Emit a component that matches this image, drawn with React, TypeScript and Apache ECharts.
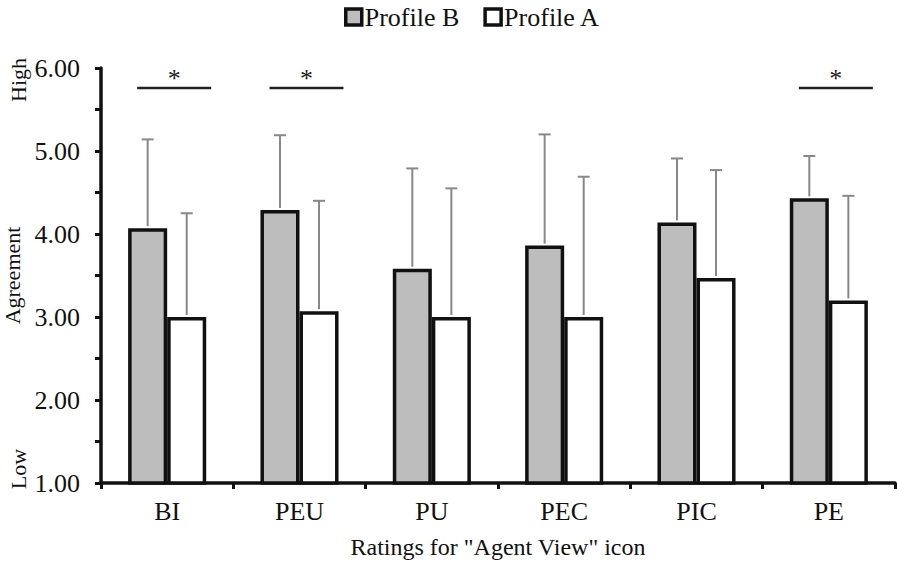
import React, { useEffect, useRef } from "react";
import * as echarts from "echarts";

const categories = ["BI", "PEU", "PU", "PEC", "PIC", "PE"];
const profileB = [4.07, 4.29, 3.58, 3.86, 4.14, 4.43];
const profileBErr = [1.07, 0.9, 1.21, 1.34, 0.77, 0.51];
const profileA = [3.0, 3.07, 3.0, 3.0, 3.47, 3.2];
const profileAErr = [1.25, 1.33, 1.55, 1.69, 1.3, 1.26];
const significant = ["BI", "PEU", "PE"];
const sigLevel = 5.76;
const yTicks = [1, 2, 3, 4, 5, 6];

const FONT = "'Liberation Serif', 'Times New Roman', serif";
const BAR_FRAC = 0.295;

export default function App() {
  const ref = useRef<HTMLDivElement>(null);
  useEffect(() => {
    document.body.style.margin = "0";
    const chart = echarts.init(ref.current!, null, { renderer: "svg" });

    const errData: any[] = [];
    categories.forEach((c, i) => {
      errData.push([i, profileB[i] + profileBErr[i], profileB[i], -1]);
      errData.push([i, profileA[i] + profileAErr[i], profileA[i], 1]);
    });
    const sigData = significant.map((c) => [categories.indexOf(c), sigLevel]);

    chart.setOption({
      animation: false,
      legend: {
        data: ["Profile B", "Profile A"],
        left: 344,
        top: 4,
        padding: 0,
        itemWidth: 16,
        itemHeight: 16,
        itemGap: 24,
        icon: "rect",
        itemStyle: { borderWidth: 3.5, borderColor: "#111" },
        textStyle: { fontFamily: FONT, fontSize: 26, color: "#111", padding: [0, 0, 0, -2] },
      },
      grid: { left: 101, right: 2, top: 68, bottom: 81, containLabel: false, outerBoundsMode: "none" },
      xAxis: {
        type: "category",
        data: categories,
        name: 'Ratings for "Agent View" icon',
        nameLocation: "middle",
        nameGap: 52,
        nameTextStyle: { fontFamily: FONT, fontSize: 24, color: "#111" },
        axisLine: { lineStyle: { color: "#111", width: 3.5 } },
        axisTick: { show: true, length: 6, lineStyle: { color: "#111", width: 3 } },
        axisLabel: { fontFamily: FONT, fontSize: 26, color: "#111", margin: 15 },
      },
      yAxis: {
        type: "value",
        min: 1,
        max: 6,
        interval: 1,
        name: "Agreement",
        nameLocation: "middle",
        nameRotate: 90,
        nameGap: 74,
        nameTextStyle: { fontFamily: FONT, fontSize: 22, color: "#111" },
        axisLine: { show: true, lineStyle: { color: "#111", width: 3.5 } },
        axisTick: { show: true, length: 6, lineStyle: { color: "#111", width: 3 } },
        minorTick: { show: true, splitNumber: 2, length: 6, lineStyle: { color: "#111", width: 3 } },
        splitLine: { show: false },
        axisLabel: {
          fontFamily: FONT,
          fontSize: 26,
          color: "#111",
          margin: 21,
          formatter: (v: number) => (yTicks.includes(v) ? v.toFixed(2) : ""),
        },
      },
      graphic: [
        {
          type: "text",
          x: 18,
          y: 80,
          rotation: Math.PI / 2,
          style: { text: "High", font: `22px ${FONT}`, fill: "#111", align: "center", verticalAlign: "middle" },
        },
        {
          type: "text",
          x: 18,
          y: 469,
          rotation: Math.PI / 2,
          style: { text: "Low", font: `22px ${FONT}`, fill: "#111", align: "center", verticalAlign: "middle" },
        },
      ],
      series: [
        {
          name: "Profile B",
          type: "bar",
          data: profileB,
          barWidth: BAR_FRAC * 100 + "%",
          barGap: "0%",
          itemStyle: { color: "#bdbdbd", borderColor: "#111", borderWidth: 3.5 },
          z: 2,
        },
        {
          name: "Profile A",
          type: "bar",
          data: profileA,
          barWidth: BAR_FRAC * 100 + "%",
          barGap: "0%",
          itemStyle: { color: "#ffffff", borderColor: "#111", borderWidth: 3.5 },
          z: 2,
        },
        {
          type: "custom",
          name: "err",
          data: errData,
          z: 3,
          clip: false,
          renderItem: (params: any, api: any) => {
            const cat = api.value(0);
            const top = api.coord([cat, api.value(1)]);
            const base = api.coord([cat, api.value(2)]);
            const side = api.value(3);
            const band = api.size([1, 0])[0];
            const bw = band * BAR_FRAC;
            const x = base[0] + (side * bw) / 2;
            const style = { stroke: "#888", lineWidth: 2 };
            return {
              type: "group",
              children: [
                { type: "line", shape: { x1: x, y1: base[1] - 2, x2: x, y2: top[1] }, style },
                { type: "line", shape: { x1: x - 6, y1: top[1], x2: x + 6, y2: top[1] }, style },
              ],
            };
          },
        },
        {
          type: "custom",
          name: "sig",
          data: sigData,
          z: 3,
          clip: false,
          renderItem: (params: any, api: any) => {
            const p = api.coord([api.value(0), api.value(1)]);
            const cx = p[0] + 7;
            return {
              type: "group",
              children: [
                { type: "line", shape: { x1: cx - 37, y1: p[1], x2: cx + 37, y2: p[1] }, style: { stroke: "#222", lineWidth: 2.5 } },
                {
                  type: "text",
                  x: cx,
                  y: p[1] - 9,
                  style: { text: "*", font: `26px ${FONT}`, fill: "#222", align: "center", verticalAlign: "middle" },
                },
              ],
            };
          },
        },
      ],
    });
    return () => chart.dispose();
  }, []);
  return <div ref={ref} style={{ width: 897, height: 564 }} />;
}
